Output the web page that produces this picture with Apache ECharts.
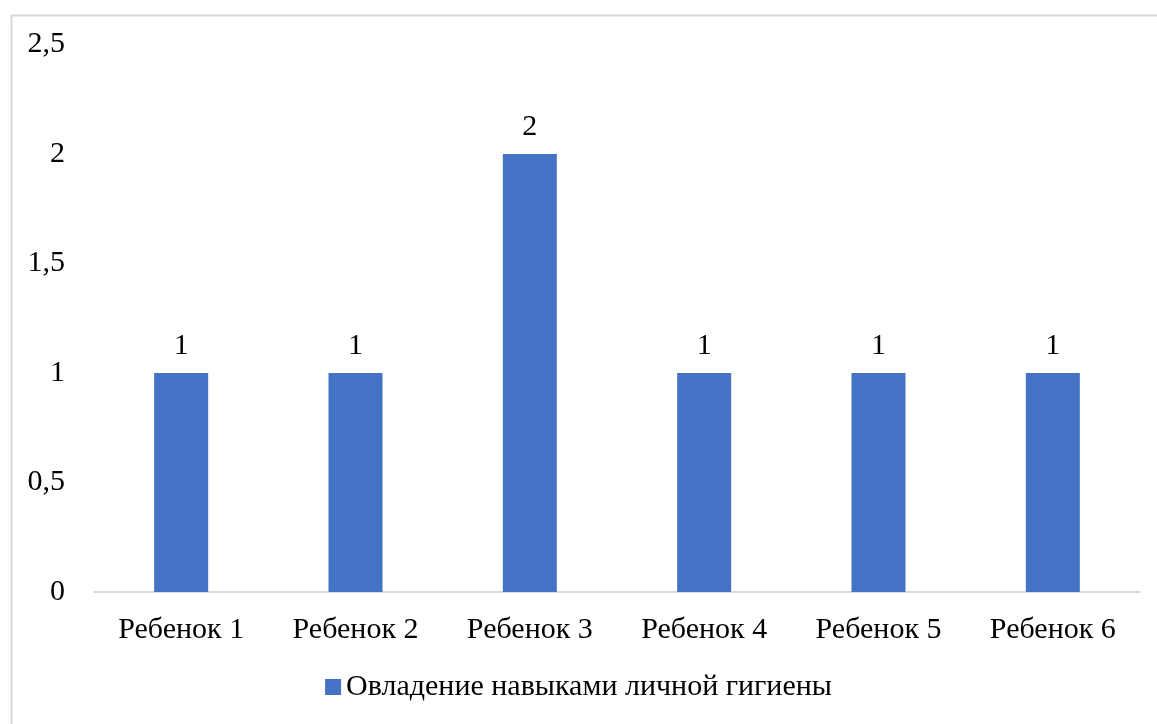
<!DOCTYPE html>
<html>
<head>
<meta charset="utf-8">
<script src="https://cdn.jsdelivr.net/npm/echarts@6/dist/echarts.min.js"></script>
<style>
  html, body { margin: 0; padding: 0; background: #fff; }
  #chart { width: 1157px; height: 724px; }
</style>
</head>
<body>
<div id="chart"></div>
<script>
// Chart data
const categories = ['Ребенок 1', 'Ребенок 2', 'Ребенок 3', 'Ребенок 4', 'Ребенок 5', 'Ребенок 6'];
const seriesName = 'Овладение навыками личной гигиены';
const values = [1, 1, 2, 1, 1, 1];
const yTickLabels = ['0', '0,5', '1', '1,5', '2', '2,5'];

const FONT = '"Liberation Serif", "Times New Roman", serif';
const chart = echarts.init(document.getElementById('chart'));

chart.setOption({
  animation: false,
  backgroundColor: '#ffffff',
  textStyle: { fontFamily: FONT },
  graphic: [{
    type: 'rect',
    left: 9, top: 13,
    shape: { width: 1170, height: 730 },
    style: { fill: 'none', stroke: '#d9d9d9', lineWidth: 2 },
    silent: true
  }],
  grid: { left: 94, right: 17, top: 44.5, bottom: 132, containLabel: false },
  legend: {
    data: [seriesName],
    bottom: 17,
    left: 'center',
    icon: 'rect',
    itemWidth: 16,
    itemHeight: 16,
    itemGap: 10,
    textStyle: { fontFamily: FONT, fontSize: 30, color: '#000' }
  },
  xAxis: {
    type: 'category',
    data: categories,
    axisLine: { lineStyle: { color: '#d9d9d9', width: 2 } },
    axisTick: { show: false },
    axisLabel: { fontFamily: FONT, fontSize: 30, color: '#000', margin: 23 }
  },
  yAxis: {
    type: 'value',
    min: 0,
    max: 2.5,
    interval: 0.5,
    axisLine: { show: false },
    axisTick: { show: false },
    splitLine: { show: false },
    axisLabel: {
      fontFamily: FONT, fontSize: 30, color: '#000', margin: 29,
      formatter: (v) => yTickLabels[Math.round(v / 0.5)]
    }
  },
  series: [{
    name: seriesName,
    type: 'bar',
    data: values,
    barWidth: 54,
    itemStyle: { color: '#4472C4' },
    label: {
      show: true,
      position: 'top',
      distance: 12,
      fontFamily: FONT,
      fontSize: 30,
      color: '#000'
    }
  }]
});
</script>
</body>
</html>
